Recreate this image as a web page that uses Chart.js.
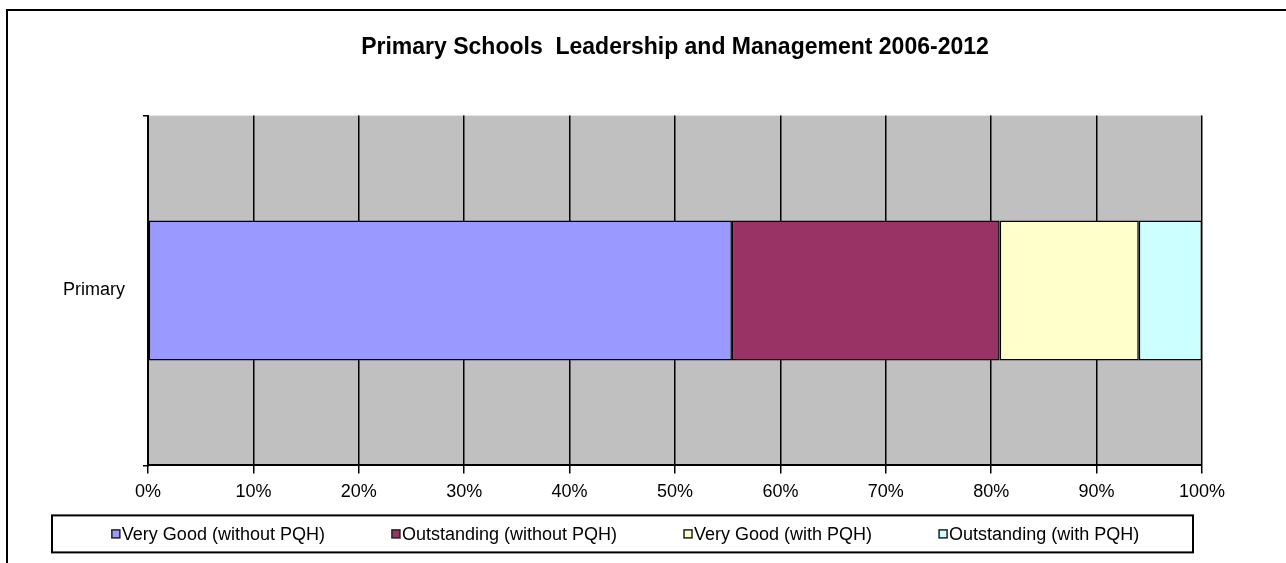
<!DOCTYPE html>
<html>
<head>
<meta charset="utf-8">
<script src="https://cdn.jsdelivr.net/npm/chart.js@4.4.1/dist/chart.umd.min.js"></script>
<style>
body { margin: 0; background: #fff; overflow: hidden; }
#frame { position: absolute; left: 6px; top: 9px; width: 1320px; height: 620px; border: 2px solid #000; }
#wrap { position: absolute; left: 0; top: 0; width: 1286px; height: 563px; }
</style>
</head>
<body>
<div id="frame"></div>
<div id="wrap"><canvas id="ChartElem"></canvas></div>
<script>
var categories = ["Primary"];
var seriesNames = ["Very Good (without PQH)", "Outstanding (without PQH)", "Very Good (with PQH)", "Outstanding (with PQH)"];
var veryGoodWithout = [55.4];
var outstandingWithout = [25.4];
var veryGoodWith = [13.2];
var outstandingWith = [6.0];
var tickLabels = ["0%", "10%", "20%", "30%", "40%", "50%", "60%", "70%", "80%", "90%", "100%"];
var colours = ["#9999FF", "#993366", "#FFFFCC", "#CCFFFF"];

var fontName = "'Liberation Sans', Arial, sans-serif";

// grey plot area behind bars
var plotBackground = {
    id: "plotBackground",
    beforeDraw: function (chart) {
        var a = chart.chartArea, ctx = chart.ctx;
        ctx.save();
        ctx.fillStyle = "#C0C0C0";
        ctx.fillRect(a.left, a.top, a.right - a.left, a.bottom - a.top);
        ctx.restore();
    }
};

// boxed legend under the x axis, Excel style
var legendBox = {
    id: "legendBox",
    afterDraw: function (chart) {
        var ctx = chart.ctx, a = chart.chartArea;
        var sets = chart.data.datasets;
        var left = a.left - 96, right = a.right - 9;
        var top = a.bottom + 50, height = 37;
        var mid = top + height / 2;
        ctx.save();
        ctx.strokeStyle = "#000";
        ctx.lineWidth = 2;
        ctx.strokeRect(left, top, right - left, height);

        ctx.font = "18px " + fontName;
        var marker = 8, textGap = 2, itemGap = 67;
        var widths = sets.map(function (d) { return ctx.measureText(d.label).width; });
        var total = 0;
        for (let i = 0; i < widths.length; i++) total += marker + textGap + widths[i];
        total += itemGap * (widths.length - 1);
        var x = (left + right) / 2 - total / 2 + 3;
        ctx.textBaseline = "middle";
        ctx.textAlign = "left";
        for (let i = 0; i < sets.length; i++) {
            ctx.fillStyle = sets[i].backgroundColor;
            ctx.fillRect(x, mid - marker / 2, marker, marker);
            ctx.lineWidth = 1.5;
            ctx.strokeStyle = "#222";
            ctx.strokeRect(x, mid - marker / 2, marker, marker);
            ctx.fillStyle = "#000";
            ctx.fillText(sets[i].label, x + marker + textGap, mid + 1);
            x += marker + textGap + widths[i] + itemGap;
        }
        ctx.restore();
    }
};

function BuildChart() {
    var datasets = [veryGoodWithout, outstandingWithout, veryGoodWith, outstandingWith].map(function (vals, i) {
        return {
            label: seriesNames[i],
            data: vals,
            backgroundColor: colours[i],
            borderColor: "#000",
            borderWidth: 1.5,
            borderSkipped: false,
            barPercentage: 0.4,
            categoryPercentage: 1
        };
    });

    new Chart(document.getElementById("ChartElem").getContext("2d"), {
        type: "bar",
        data: { labels: categories, datasets: datasets },
        plugins: [plotBackground, legendBox],
        options: {
            indexAxis: "y",
            responsive: true,
            maintainAspectRatio: false,
            animation: false,
            layout: { padding: { left: 50, right: 84, top: 0, bottom: 52 } },
            plugins: {
                title: {
                    display: true,
                    fullSize: false,
                    text: "Primary Schools  Leadership and Management 2006-2012",
                    color: "#000",
                    font: { family: fontName, size: 23, weight: "bold" },
                    padding: { top: 34, bottom: 54 }
                },
                legend: { display: false },
                tooltip: { enabled: false }
            },
            scales: {
                x: {
                    stacked: true,
                    min: 0,
                    max: 100,
                    ticks: {
                        stepSize: 10,
                        color: "#000",
                        padding: 8,
                        maxRotation: 0,
                        font: { family: fontName, size: 18 },
                        callback: function (v) { return tickLabels[Math.round(v / 10)]; }
                    },
                    grid: { color: "#000", lineWidth: 1.5, tickLength: 8 },
                    border: { color: "#000", width: 2 }
                },
                y: {
                    stacked: true,
                    afterFit: function (s) { s.width = 98; },
                    ticks: {
                        color: "#000",
                        padding: 18,
                        font: { family: fontName, size: 18 }
                    },
                    grid: { offset: true, drawOnChartArea: false, color: "#000", lineWidth: 1.5, tickLength: 5 },
                    border: { color: "#000", width: 2 }
                }
            }
        }
    });
}

BuildChart();
</script>
</body>
</html>
